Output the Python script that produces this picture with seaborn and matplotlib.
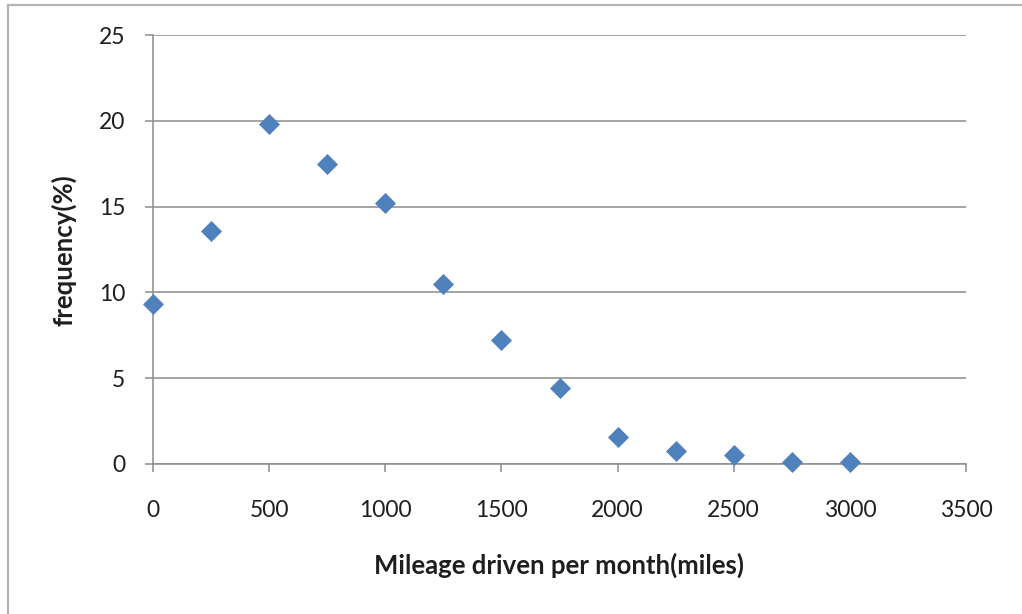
import matplotlib
matplotlib.use("Agg")
import matplotlib.pyplot as plt
import matplotlib.patches as mpatches
import seaborn as sns
import pandas as pd

mileage = [0, 250, 500, 750, 1000, 1250, 1500, 1750, 2000, 2250, 2500, 2750, 3000]
frequency = [9.3, 13.6, 19.8, 17.5, 15.2, 10.5, 7.2, 4.4, 1.6, 0.75, 0.5, 0.1, 0.1]
x_ticks = [0, 500, 1000, 1500, 2000, 2500, 3000, 3500]
y_ticks = [0, 5, 10, 15, 20, 25]
x_label = "Mileage driven per month(miles)"
y_label = "frequency(%)"

df = pd.DataFrame({"mileage": mileage, "frequency": frequency})

sns.set_theme(style="white")
plt.rcParams["font.family"] = ["Lato", "DejaVu Sans"]

grid_c = "#8c8c8c"
text_c = "#1e1e1e"

fig = plt.figure(figsize=(10.22, 6.14), dpi=100)
ax = fig.add_axes([153 / 1022, 1 - 464 / 614, (966 - 153) / 1022, (464 - 35) / 614])

sns.scatterplot(data=df, x="mileage", y="frequency", ax=ax, marker="D",
                s=115, color="#4F81BD", linewidth=0, zorder=3, clip_on=False)

ax.set_xlim(0, 3500)
ax.set_ylim(0, 25)
ax.set_xticks(x_ticks)
ax.set_yticks(y_ticks)
ax.set_xticklabels([str(v) for v in x_ticks])
ax.set_yticklabels([str(v) for v in y_ticks])

ax.grid(axis="y", color=grid_c, linewidth=1.1)
ax.set_axisbelow(True)
for s in ["top", "right"]:
    ax.spines[s].set_visible(False)
for s in ["left", "bottom"]:
    ax.spines[s].set_color(grid_c)
    ax.spines[s].set_linewidth(1.1)

ax.tick_params(axis="x", which="major", direction="out", length=6, width=1.1,
               color=grid_c, pad=20, labelsize=16.5, labelcolor=text_c, bottom=True)
ax.tick_params(axis="y", which="major", direction="out", length=6, width=1.1,
               color=grid_c, pad=14, labelsize=16.5, labelcolor=text_c, left=True)

ax.set_xlabel(x_label, fontsize=18.5, fontweight="bold", color=text_c)
ax.set_ylabel(y_label, fontsize=18.5, fontweight="bold", color=text_c)
ax.xaxis.set_label_coords((559 - 153) / 813, (464 - 565) / 429)
ax.xaxis.label.set_va("center")
ax.yaxis.set_label_coords((64 - 153) / 813, (464 - 250) / 429)
ax.yaxis.label.set_va("center")

border = mpatches.Rectangle((8 / 1022, -0.2), 1.2, 1.2 - 5 / 614, transform=fig.transFigure,
                            fill=False, edgecolor="#b4b4b4", linewidth=1.6, zorder=0)
fig.patches.append(border)

fig.savefig("out.png", dpi=100, facecolor="white")
